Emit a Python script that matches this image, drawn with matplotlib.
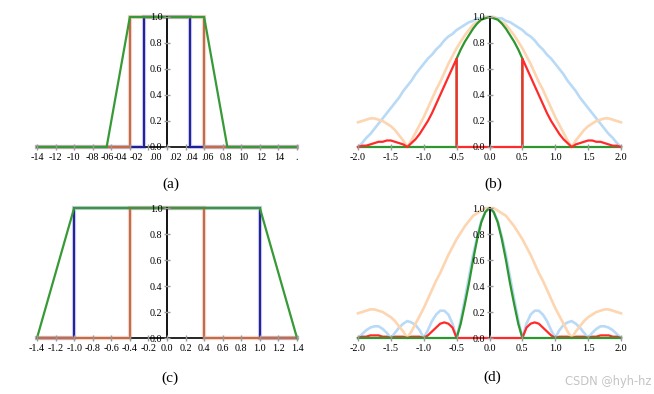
import numpy as np
import matplotlib
matplotlib.use("Agg")
import matplotlib.pyplot as plt

plt.rcParams['font.family'] = ['Liberation Serif', 'DejaVu Serif']

# ---------------- data ----------------
# panel (a): rectangular pulses and trapezoid
blue_a_x = [-1.4, -0.25, -0.25, 0.25, 0.25, 1.4]
rect_y = [0, 0, 1, 1, 0, 0]
brown_x = [-1.4, -0.4, -0.4, 0.4, 0.4, 1.4]
green_a_x = [-1.4, -0.65, -0.4, 0.4, 0.65, 1.4]
green_a_y = [0, 0, 1, 1, 0, 0]
# panel (c)
blue_c_x = [-1.4, -1.0, -1.0, 1.0, 1.0, 1.4]
green_c_x = [-1.4, -1.0, 1.0, 1.4]
green_c_y = [0, 1, 1, 0]

# spectra sampled on f = -2 ... 2 (step 1/16)
F = np.linspace(-2, 2, 65)
blue_b = [0.00, 0.03, 0.07, 0.10, 0.14, 0.18, 0.22, 0.26, 0.30, 0.34, 0.38, 0.43, 0.47, 0.51, 0.56, 0.60,
          0.64, 0.68, 0.71, 0.75, 0.78, 0.82, 0.85, 0.87, 0.90, 0.92, 0.94, 0.96, 0.97, 0.99, 0.99, 1.00,
          1.00,
          1.00, 0.99, 0.99, 0.97, 0.96, 0.94, 0.92, 0.90, 0.87, 0.85, 0.82, 0.78, 0.75, 0.71, 0.68,
          0.64, 0.60, 0.56, 0.51, 0.47, 0.43, 0.38, 0.34, 0.30, 0.26, 0.22, 0.18, 0.14, 0.10, 0.07, 0.03, 0.00]
orange = [0.19, 0.20, 0.21, 0.22, 0.22, 0.21, 0.20, 0.18, 0.16, 0.13, 0.09, 0.05, 0.00, 0.05, 0.11, 0.17,
          0.23, 0.30, 0.37, 0.44, 0.50, 0.57, 0.64, 0.70, 0.76, 0.81, 0.86, 0.90, 0.94, 0.96, 0.98, 1.00,
          1.00,
          1.00, 0.98, 0.96, 0.94, 0.90, 0.86, 0.81, 0.76, 0.70, 0.64, 0.57, 0.50, 0.44, 0.37, 0.30,
          0.23, 0.17, 0.11, 0.05, 0.00, 0.05, 0.09, 0.13, 0.16, 0.18, 0.20, 0.21, 0.22, 0.22, 0.21, 0.20, 0.19]
blue_d = [0.00, 0.03, 0.06, 0.08, 0.09, 0.09, 0.07, 0.04, 0.00, 0.04, 0.08, 0.11, 0.13, 0.12, 0.10, 0.06,
          0.00, 0.06, 0.13, 0.18, 0.21, 0.21, 0.18, 0.11, 0.00, 0.14, 0.30, 0.47, 0.64, 0.78, 0.90, 0.97,
          1.00,
          0.97, 0.90, 0.78, 0.64, 0.47, 0.30, 0.14, 0.00, 0.11, 0.18, 0.21, 0.21, 0.18, 0.13, 0.06,
          0.00, 0.06, 0.10, 0.12, 0.13, 0.11, 0.08, 0.04, 0.00, 0.04, 0.07, 0.09, 0.09, 0.08, 0.06, 0.03, 0.00]
green_d = [0.00] * 24 + [0.00, 0.11, 0.26, 0.42, 0.60, 0.76, 0.89, 0.97,
                         1.00,
                         0.97, 0.89, 0.76, 0.60, 0.42, 0.26, 0.11, 0.00] + [0.00] * 24
red_d = [0.00, 0.01, 0.01, 0.02, 0.02, 0.02, 0.01, 0.01, 0.00, 0.01, 0.01, 0.01, 0.00, 0.01, 0.01, 0.01,
         0.00, 0.02, 0.05, 0.08, 0.11, 0.12, 0.11, 0.08] + [0.00] * 17 + \
        [0.08, 0.11, 0.12, 0.11, 0.08, 0.05, 0.02, 0.00, 0.01, 0.01, 0.01, 0.00, 0.01, 0.01, 0.01, 0.00,
         0.01, 0.01, 0.02, 0.02, 0.02, 0.01, 0.01, 0.00]
# panel (b) red / green with jumps at f = +-0.5
red_b_x = np.concatenate([F[:25], [-0.5, 0.5], F[40:]])
red_b = [0.00, 0.01, 0.01, 0.02, 0.03, 0.04, 0.04, 0.05, 0.05, 0.04, 0.03, 0.02, 0.00, 0.03, 0.06, 0.10,
         0.15, 0.20, 0.26, 0.33, 0.40, 0.47, 0.54, 0.61, 0.68,
         0.00, 0.00,
         0.68, 0.61, 0.54, 0.47, 0.40, 0.33, 0.26, 0.20, 0.15, 0.10, 0.06, 0.03, 0.00, 0.02, 0.03, 0.04,
         0.05, 0.05, 0.04, 0.04, 0.03, 0.02, 0.01, 0.01, 0.00]
green_b_x = np.concatenate([[-2.0, -0.5], F[24:41], [0.5, 2.0]])
green_b = [0.00, 0.00,
           0.68, 0.75, 0.81, 0.86, 0.91, 0.95, 0.98, 0.99, 1.00, 0.99, 0.98, 0.95, 0.91, 0.86, 0.81, 0.75, 0.68,
           0.00, 0.00]

# ticks
xt_ac = [-1.4, -1.2, -1.0, -0.8, -0.6, -0.4, -0.2, 0.0, 0.2, 0.4, 0.6, 0.8, 1.0, 1.2, 1.4]
xl_c = ["-1.4", "-1.2", "-1.0", "-0.8", "-0.6", "-0.4", "-0.2", "0.0", "0.2", "0.4", "0.6", "0.8",
        "1.0", "1.2", "1.4"]
xl_a_pos = [-1.40, -1.20, -1.01, -0.80, -0.64, -0.50, -0.33, -0.12, 0.09, 0.27, 0.44, 0.63, 0.82, 1.02,
            1.21, 1.40]
xl_a = ["-14", "-12", "-10", "-08", "-06", "-04", "-02", ".00", ".02", ".04", ".06", "0.8", "10", "12",
        "14", "."]
xt_bd = [-2.0, -1.5, -1.0, -0.5, 0.0, 0.5, 1.0, 1.5, 2.0]
xl_bd = ["-2.0", "-1.5", "-1.0", "-0.5", "0.0", "0.5", "1.0", "1.5", "2.0"]
yt = [0.0, 0.2, 0.4, 0.6, 0.8, 1.0]
yl = ["0.0", "0.2", "0.4", "0.6", "0.8", "1.0"]

# ---------------- styles ----------------
C_BLUE = '#1f1f9c'
C_BROWN = '#c46b47'
C_GREEN = '#379a37'
C_LBLUE = '#b9daf7'
C_LORANGE = '#fdd5b0'
C_RED = '#ff2a2a'
C_GREEN2 = '#2e962e'

W, H = 654, 394
fig = plt.figure(figsize=(W / 100, H / 100), dpi=100)


def add_ax(x0, x1, ytop, ybot):
    return fig.add_axes([x0 / W, 1 - ybot / H, (x1 - x0) / W, (ybot - ytop) / H])


def style(ax, xlim):
    ax.set_xlim(*xlim)
    ax.set_ylim(0, 1)
    ax.set_facecolor('none')
    for s in ['top', 'right']:
        ax.spines[s].set_visible(False)
    ax.spines['left'].set_position(('data', 0))
    ax.spines['left'].set_color('black')
    ax.spines['left'].set_linewidth(1.3)
    ax.spines['left'].set_zorder(4)
    ax.spines['bottom'].set_color('black')
    ax.spines['bottom'].set_linewidth(1.2)
    ax.spines['bottom'].set_zorder(1.5)
    ax.xaxis.set_zorder(5)
    ax.yaxis.set_zorder(5)
    ax.tick_params(axis='both', which='major', direction='inout', length=4.5, width=1.0,
                   color='#9a9a9a', labelsize=7.3, labelcolor='black')
    ax.tick_params(axis='x', pad=2.2)
    ax.tick_params(axis='y', pad=1.0)
    ax.set_yticks(yt, yl)


def line(ax, x, y, c, lw, z, halo=False):
    if halo:
        ax.plot(x, y, color=c, lw=lw + 1.6, alpha=0.25, zorder=z - 0.05, clip_on=False,
                solid_joinstyle='miter')
    ax.plot(x, y, color=c, lw=lw, zorder=z, clip_on=False, solid_joinstyle='miter')


# (a)
axa = add_ax(37, 297, 17, 147)
style(axa, (-1.4, 1.4))
axa.set_xticks(xt_ac, [""] * len(xt_ac))
sec = axa.secondary_xaxis('bottom')
sec.spines['bottom'].set_visible(False)
sec.set_xticks(xl_a_pos, xl_a)
sec.tick_params(axis='x', length=0, labelsize=7.3, pad=4.4, labelcolor='black')
line(axa, blue_a_x, rect_y, C_BLUE, 1.4, 3.0, halo=True)
line(axa, brown_x, rect_y, C_BROWN, 1.5, 3.1, halo=True)
line(axa, green_a_x, green_a_y, C_GREEN, 1.6, 3.2)

# (c)
axc = add_ax(37, 297, 208, 338)
style(axc, (-1.4, 1.4))
axc.set_xticks(xt_ac, xl_c)
line(axc, blue_c_x, rect_y, C_BLUE, 1.4, 3.0, halo=True)
line(axc, brown_x, rect_y, C_BROWN, 1.5, 3.1, halo=True)
line(axc, green_c_x, green_c_y, C_GREEN, 1.6, 3.2)

# (b)
axb = add_ax(358, 621, 17, 147)
style(axb, (-2, 2))
axb.set_xticks(xt_bd, xl_bd)
axb.plot(F, blue_b, color=C_LBLUE, lw=1.9, zorder=2.6, clip_on=False)
axb.plot(F, orange, color=C_LORANGE, lw=1.9, zorder=2.7, clip_on=False)
axb.plot(green_b_x, green_b, color=C_GREEN2, lw=1.6, zorder=3.0, clip_on=False)
axb.plot(red_b_x, red_b, color=C_RED, lw=1.6, zorder=3.1, clip_on=False)

# (d)
axd = add_ax(358, 621, 208, 338)
style(axd, (-2, 2))
axd.set_xticks(xt_bd, xl_bd)
axd.plot(F, blue_d, color=C_LBLUE, lw=1.9, zorder=2.6, clip_on=False)
axd.plot(F, orange, color=C_LORANGE, lw=1.9, zorder=2.7, clip_on=False)
axd.plot(F, red_d, color=C_RED, lw=1.6, zorder=3.0, clip_on=False)
axd.plot(F, green_d, color=C_GREEN2, lw=1.6, zorder=3.1, clip_on=False)

# captions
for txt, px, py in [("(a)", 171, 184), ("(b)", 493, 184), ("(c)", 170, 378), ("(d)", 492, 377)]:
    fig.text(px / W, 1 - py / H, txt, ha='center', va='center', fontsize=11)

fig.text(651 / W, 1 - 382 / H, "CSDN @hyh-hz", ha='right', va='center', fontsize=8.3,
         color='#c4c4c4', family=['DejaVu Sans'])

fig.savefig("out.png", dpi=100)
